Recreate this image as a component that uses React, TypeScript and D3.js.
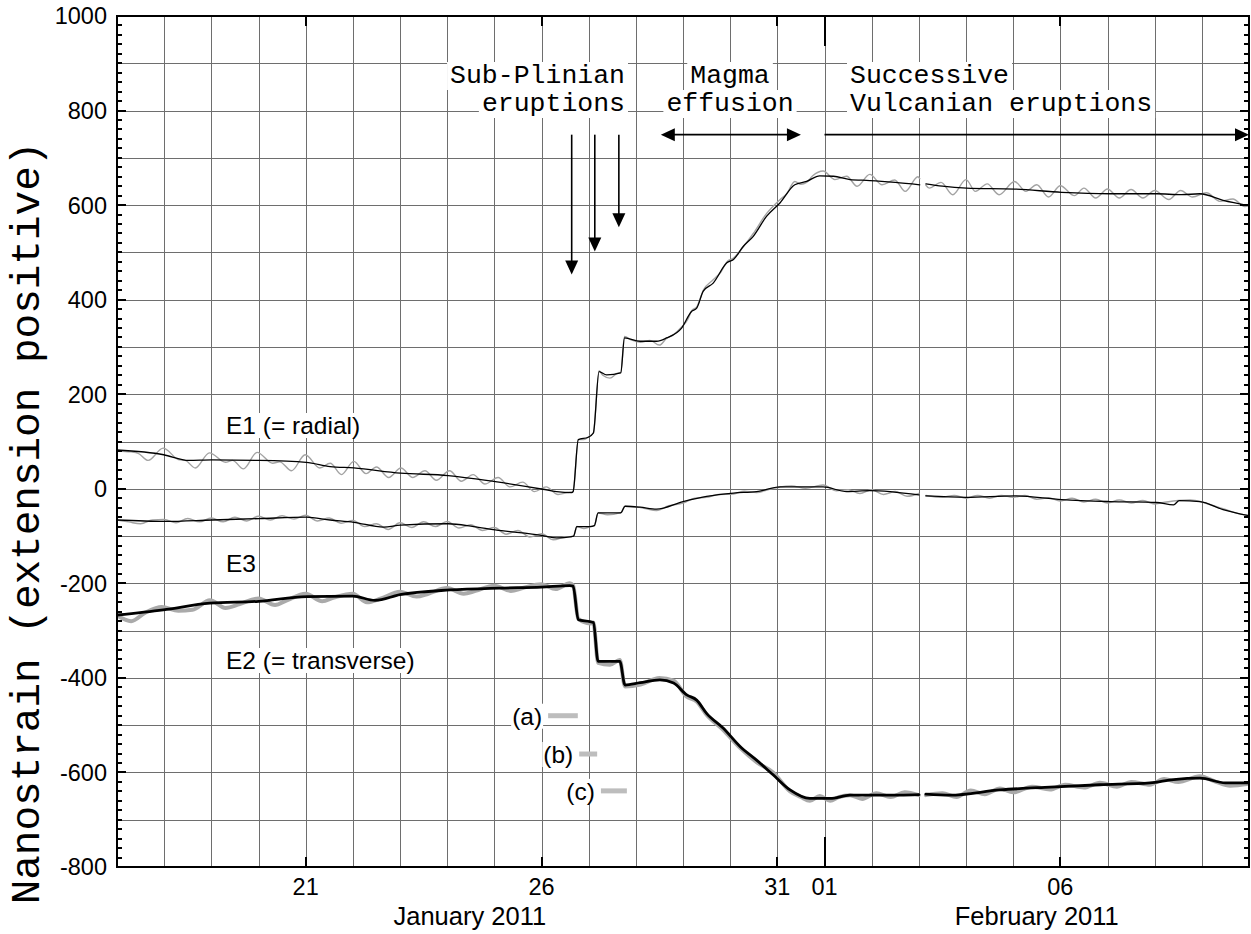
import { useEffect, useRef } from 'react';
import * as d3 from 'd3';

type Pt = [number, number | null];

// time is given in days after 17 Jan 2011 00:00 (UTC); null = data gap
const E1_BLACK: Pt[] = [
  [0, 82], [0.99, 72], [1.52, 60], [2.01, 61], [3.02, 60], [4.01, 56], [4.52, 47], [5.02, 44],
  [6.01, 33], [7.02, 28], [8.02, 15], [9.03, -1], [9.32, -6], [9.64, -8], [9.67, -6], [9.78, 104],
  [9.99, 109], [10.1, 118], [10.22, 248], [10.38, 241], [10.68, 245], [10.76, 319], [11.09, 312],
  [11.44, 312], [11.65, 319], [11.97, 340], [12.18, 375], [12.29, 382], [12.43, 418], [12.64, 435],
  [12.93, 478], [13.07, 485], [13.28, 513], [13.49, 534], [13.77, 576], [14.06, 605], [14.37, 643],
  [14.62, 650], [14.9, 662], [15.19, 661], [15.54, 654], [15.96, 652], [16.5, 648], [17.02, 643],
  [17.08, null], [17.15, 645], [17.5, 640], [18.01, 636], [19.03, 634], [20.03, 627], [21.05, 624],
  [22.04, 624], [22.57, 622], [22.96, 624], [23.45, 610], [24.0, 599],
];

const E1_GRAY: Pt[] = [
  [0, 80], [0.3, 78], [0.45, 75], [0.66, 60], [0.98, 86], [1.3, 62], [1.45, 60], [1.66, 44],
  [1.96, 76], [2.3, 56], [2.45, 60], [2.68, 42], [2.97, 77], [3.3, 54], [3.45, 57], [3.7, 38],
  [3.99, 72], [4.3, 44], [4.52, 54], [4.76, 30], [5.02, 58], [5.28, 32], [5.5, 46], [5.76, 24],
  [6.02, 44], [6.27, 24], [6.53, 38], [6.77, 18], [7.05, 38], [7.3, 16], [7.55, 30], [7.8, 10],
  [8.08, 24], [8.33, 4], [8.6, 14], [8.85, -6], [9.1, 4], [9.35, -12], [9.55, -8], [9.67, -6],
  [9.78, 104], [9.9, 104], [10.0, 110], [10.1, 118], [10.22, 250], [10.3, 240], [10.45, 234],
  [10.6, 244], [10.68, 246], [10.76, 322], [10.9, 315], [11.1, 310], [11.3, 314], [11.5, 304],
  [11.65, 318], [11.8, 326], [11.97, 342], [12.1, 358], [12.18, 376], [12.3, 386], [12.43, 420],
  [12.64, 442], [12.8, 458], [12.93, 480], [13.07, 488], [13.28, 512], [13.49, 540], [13.77, 582],
  [14.06, 612], [14.2, 624], [14.37, 650], [14.5, 644], [14.62, 648], [14.75, 662], [14.97, 672],
  [15.22, 654], [15.47, 661], [15.69, 640], [15.96, 665], [16.22, 643], [16.49, 653], [16.71, 629],
  [16.98, 660], [17.02, 656], [17.08, null], [17.15, 642], [17.22, 636], [17.47, 648], [17.72, 622],
  [18.0, 654], [18.2, 629], [18.45, 645], [18.7, 622], [19.03, 650], [19.27, 629], [19.5, 643],
  [19.75, 617], [20.0, 641], [20.3, 620], [20.5, 636], [20.75, 615], [21.0, 634], [21.25, 615],
  [21.5, 633], [21.75, 615], [22.0, 631], [22.3, 612], [22.55, 631], [22.8, 617], [23.1, 626],
  [23.38, 608], [23.66, 613], [23.91, 597], [24.0, 598],
];

const E3_BLACK: Pt[] = [
  [0, -66], [1.01, -69], [2.01, -66], [3.02, -63], [4.01, -60], [4.52, -66], [5.02, -71], [5.65, -81],
  [6.01, -77], [7.02, -74], [7.56, -80], [8.02, -87], [9.03, -99], [9.32, -104], [9.64, -101],
  [9.68, -100], [9.75, -80], [10.03, -80], [10.12, -78], [10.2, -51], [10.66, -51], [10.69, -50],
  [10.77, -37], [11.09, -39], [11.44, -43], [12.0, -27], [12.5, -16], [13.07, -9], [13.56, -6],
  [14.06, 4], [14.97, 4], [15.47, -6], [15.96, -4], [17.0, -13], [17.08, null], [17.15, -15],
  [18.0, -18], [19.03, -15], [20.03, -23], [21.05, -27], [22.04, -29], [22.4, -34], [22.52, -25],
  [22.96, -27], [23.45, -44], [24.0, -57],
];

const E3_GRAY: Pt[] = [
  [0, -66], [0.25, -70], [0.5, -74], [0.75, -66], [1, -65], [1.25, -72], [1.5, -63], [1.75, -70],
  [2, -62], [2.25, -70], [2.5, -60], [2.75, -68], [3, -58], [3.25, -66], [3.5, -57], [3.75, -64],
  [4, -56], [4.25, -68], [4.5, -62], [4.75, -73], [5, -67], [5.25, -80], [5.5, -74], [5.75, -86],
  [6, -72], [6.25, -82], [6.5, -70], [6.75, -80], [7, -69], [7.25, -83], [7.5, -76], [7.75, -88],
  [8, -82], [8.25, -96], [8.5, -88], [8.75, -102], [9, -95], [9.25, -108], [9.5, -102], [9.64, -101],
  [9.68, -100], [9.75, -80], [9.9, -84], [10.03, -80], [10.12, -78], [10.2, -51], [10.4, -55],
  [10.66, -51], [10.69, -50], [10.77, -37], [11.0, -38], [11.2, -42], [11.44, -46], [11.7, -36],
  [12.0, -30], [12.25, -20], [12.5, -18], [12.75, -12], [13.07, -11], [13.3, -5], [13.56, -8],
  [13.8, -2], [14.06, 4], [14.3, 6], [14.6, 1], [14.97, 8], [15.25, -4], [15.5, -2], [15.75, -10],
  [16, -2], [16.25, -12], [16.5, -6], [16.75, -16], [17.0, -10], [17.08, null], [17.15, -14],
  [17.5, -18], [17.75, -14], [18, -20], [18.25, -14], [18.5, -20], [18.75, -14], [19, -18],
  [19.25, -14], [19.5, -22], [19.75, -19], [20, -26], [20.25, -20], [20.5, -28], [20.75, -22],
  [21, -30], [21.25, -24], [21.5, -30], [21.75, -25], [22, -32], [22.25, -28], [22.5, -25],
  [22.75, -24], [23, -28], [23.25, -36], [23.5, -44], [23.75, -52], [24, -57],
];

const E2_BLACK: Pt[] = [
  [0, -267], [0.98, -256], [1.97, -242], [3.0, -238], [4.02, -228], [5.0, -227], [5.47, -236],
  [6.0, -224], [7.06, -214], [8.1, -210], [9.0, -208], [9.6, -205], [9.67, -206], [9.78, -277],
  [10.03, -281], [10.1, -283], [10.2, -365], [10.66, -365], [10.77, -415], [11.09, -410],
  [11.51, -404], [11.8, -411], [12.08, -436], [12.29, -447], [12.5, -475], [12.85, -506],
  [13.21, -545], [13.56, -574], [13.91, -605], [14.27, -637], [14.69, -655], [15.12, -655],
  [15.54, -648], [16.6, -648], [17.0, -647], [17.08, null], [17.15, -646], [17.66, -648],
  [18.72, -637], [19.78, -631], [20.84, -626], [21.9, -622], [22.4, -615], [22.96, -612],
  [23.5, -622], [24, -622],
];

const E2_GRAY: Pt[] = [
  [0, -268], [0.3, -280], [0.6, -262], [0.95, -250], [1.3, -258], [1.6, -256], [1.97, -236],
  [2.3, -252], [2.6, -244], [3.0, -232], [3.35, -246], [3.6, -236], [4.0, -222], [4.35, -238],
  [4.6, -230], [5.0, -222], [5.3, -240], [5.6, -232], [6.0, -218], [6.35, -228], [6.6, -222],
  [7.0, -210], [7.35, -222], [7.6, -216], [8.0, -205], [8.35, -216], [8.6, -210], [9.0, -202],
  [9.3, -212], [9.6, -200], [9.67, -204], [9.78, -275], [10.03, -285], [10.1, -283], [10.2, -368],
  [10.45, -372], [10.66, -362], [10.77, -418], [11.1, -414], [11.5, -400], [11.8, -406],
  [12.08, -440], [12.29, -450], [12.5, -478], [12.85, -510], [13.21, -548], [13.56, -578],
  [13.91, -600], [14.27, -640], [14.5, -652], [14.69, -660], [14.9, -650], [15.12, -660],
  [15.3, -652], [15.54, -648], [15.8, -656], [16.1, -644], [16.4, -652], [16.7, -642], [17.0, -648],
  [17.08, null], [17.15, -648], [17.5, -644], [17.8, -652], [18.1, -638], [18.4, -646],
  [18.72, -634], [19.0, -642], [19.4, -630], [19.78, -636], [20.1, -626], [20.5, -632],
  [20.84, -622], [21.2, -630], [21.5, -620], [21.9, -626], [22.2, -614], [22.5, -620],
  [22.96, -608], [23.3, -620], [23.6, -628], [24, -624],
];

// sub-Plinian eruption arrows: time, arrow tip (nanostrain)
const ERUPTION_DAYS = [9.64, 10.13, 10.64];
const ERUPTION_TIPS = [453, 502, 553];
const ARROW_TOP = 749;
const EFFUSION_SPAN = [11.53, 14.5];
const VULCANIAN_SPAN = [15, 24];

// time windows (a), (b), (c)
const WINDOW_LABELS = ['(a)', '(b)', '(c)'];
const WINDOW_START = [9.14, 9.8, 10.26];
const WINDOW_END = [9.77, 10.18, 10.81];
const WINDOW_LEVEL = [-480, -561, -639];

const Y_TICKS = [-800, -600, -400, -200, 0, 200, 400, 600, 800, 1000];
const X_TICK_DAYS = [4, 9, 14, 15, 20];
const X_TICK_LABELS = ['21', '26', '31', '01', '06'];

const W = 1251;
const H = 934;
const START = Date.UTC(2011, 0, 17);
const END = Date.UTC(2011, 1, 10);
const DAY = 864e5;
const toDate = (d: number) => new Date(START + d * DAY);

const SANS = '"Liberation Sans", Arial, Helvetica, sans-serif';
const MONO = '"Liberation Mono", "Courier New", monospace';

export default function App() {
  const svgRef = useRef<SVGSVGElement>(null);

  useEffect(() => {
    if (!svgRef.current) return;
    const svg = d3.select(svgRef.current);
    svg.selectAll('*').remove();

    const left = 117, right = 1249, top = 16, bottom = 867;
    const x = d3.scaleUtc().domain([new Date(START), new Date(END)]).range([left, right]);
    const y = d3.scaleLinear().domain([-800, 1000]).range([bottom, top]);

    svg.append('rect').attr('width', W).attr('height', H).attr('fill', '#fff');

    svg.append('defs').append('clipPath').attr('id', 'plotclip')
      .append('rect').attr('x', left).attr('y', top).attr('width', right - left).attr('height', bottom - top);

    // grid
    const grid = svg.append('g').attr('stroke', '#6e6e6e').attr('stroke-width', 1).attr('shape-rendering', 'crispEdges');
    grid.selectAll('line.v')
      .data(d3.utcDay.range(new Date(START + DAY), new Date(END)))
      .join('line')
      .attr('x1', d => Math.round(x(d)) + 0.5).attr('x2', d => Math.round(x(d)) + 0.5)
      .attr('y1', top).attr('y2', bottom);
    grid.selectAll('line.h')
      .data(d3.range(-700, 1000, 100))
      .join('line')
      .attr('x1', left).attr('x2', right)
      .attr('y1', d => Math.round(y(d)) + 0.5).attr('y2', d => Math.round(y(d)) + 0.5);

    // text with white box behind
    const labels = svg.append('g');
    const addLabel = (txt: string, tx: number, ty: number, anchor: string, font: string, size: number, pad = 3) => {
      const g = labels.append('g');
      const t = g.append('text')
        .attr('x', tx).attr('y', ty)
        .attr('text-anchor', anchor)
        .attr('font-family', font)
        .attr('font-size', size)
        .attr('fill', '#000')
        .text(txt);
      const b = (t.node() as SVGTextElement).getBBox();
      g.insert('rect', 'text')
        .attr('x', b.x - pad).attr('y', b.y + 1)
        .attr('width', b.width + pad * 2).attr('height', b.height - 2)
        .attr('fill', '#fff');
    };

    // curves
    const line = d3.line<Pt>()
      .defined(d => d[1] !== null)
      .x(d => x(toDate(d[0])))
      .y(d => y(d[1] as number))
      .curve(d3.curveMonotoneX);

    const curves = svg.append('g').attr('clip-path', 'url(#plotclip)').attr('fill', 'none')
      .attr('stroke-linejoin', 'round').attr('stroke-linecap', 'round');
    const series: [Pt[], string, number][] = [
      [E1_GRAY, '#a3a3a3', 1.4],
      [E1_BLACK, '#000', 1.3],
      [E3_GRAY, '#a3a3a3', 1.5],
      [E3_BLACK, '#000', 1.3],
      [E2_GRAY, '#aaaaaa', 4],
      [E2_BLACK, '#000', 2.8],
    ];
    series.forEach(([data, color, w]) => {
      curves.append('path').attr('d', line(data)).attr('stroke', color).attr('stroke-width', w);
    });

    // annotation text
    addLabel('Sub-Plinian', 625, 83, 'end', MONO, 26.5);
    addLabel('eruptions', 625, 111, 'end', MONO, 26.5);
    addLabel('Magma', 730, 83, 'middle', MONO, 26.5);
    addLabel('effusion', 730, 111, 'middle', MONO, 26.5);
    addLabel('Successive', 850, 83, 'start', MONO, 26.5);
    addLabel('Vulcanian eruptions', 850, 111, 'start', MONO, 26.5);

    addLabel('E1 (= radial)', 226, 434, 'start', SANS, 24.5, 2);
    addLabel('E3', 226, 572, 'start', SANS, 24.5, 2);
    addLabel('E2 (= transverse)', 226, 669, 'start', SANS, 24.5, 2);

    // windows (a)(b)(c)
    WINDOW_LABELS.forEach((lab, i) => {
      const x0 = x(toDate(WINDOW_START[i]));
      const x1 = x(toDate(WINDOW_END[i]));
      const yy = y(WINDOW_LEVEL[i]);
      addLabel(lab, x0 - 6, yy + 9, 'end', SANS, 24.5, 1);
      svg.append('line')
        .attr('x1', x0).attr('x2', x1).attr('y1', yy).attr('y2', yy)
        .attr('stroke', '#bdbdbd').attr('stroke-width', 5);
    });

    // arrows
    const arrows = svg.append('g').attr('stroke', '#000').attr('fill', '#000');
    const head = (tx: number, ty: number, dir: 'down' | 'left' | 'right') => {
      const L = 14, hw = 6.5;
      let p: [number, number][];
      if (dir === 'down') p = [[tx, ty], [tx - hw, ty - L], [tx + hw, ty - L]];
      else if (dir === 'left') p = [[tx, ty], [tx + L, ty - hw], [tx + L, ty + hw]];
      else p = [[tx, ty], [tx - L, ty - hw], [tx - L, ty + hw]];
      arrows.append('path').attr('d', 'M' + p.map(q => q.join(',')).join('L') + 'Z').attr('stroke', 'none');
    };
    ERUPTION_DAYS.forEach((d, i) => {
      const ax = x(toDate(d));
      arrows.append('line').attr('x1', ax).attr('x2', ax)
        .attr('y1', y(ARROW_TOP)).attr('y2', y(ERUPTION_TIPS[i]) - 8).attr('stroke-width', 1.6);
      head(ax, y(ERUPTION_TIPS[i]), 'down');
    });
    const ay = y(ARROW_TOP);
    const e0 = x(toDate(EFFUSION_SPAN[0])), e1 = x(toDate(EFFUSION_SPAN[1]));
    arrows.append('line').attr('x1', e0 + 8).attr('x2', e1 - 8).attr('y1', ay).attr('y2', ay).attr('stroke-width', 1.6);
    head(e0, ay, 'left');
    head(e1, ay, 'right');
    const v0 = x(toDate(VULCANIAN_SPAN[0])), v1 = x(toDate(VULCANIAN_SPAN[1]));
    arrows.append('line').attr('x1', v0).attr('x2', v1 - 8).attr('y1', ay).attr('y2', ay).attr('stroke-width', 1.6);
    head(v1, ay, 'right');

    // frame and ticks
    const axes = svg.append('g').attr('stroke', '#000').attr('shape-rendering', 'crispEdges');
    axes.append('rect').attr('x', left).attr('y', top).attr('width', right - left).attr('height', bottom - top)
      .attr('fill', 'none').attr('stroke-width', 2);
    d3.range(-800, 1001, 20).forEach(v => {
      const major = v % 200 === 0;
      const len = major ? 9 : 5;
      const yy = Math.round(y(v));
      axes.append('line').attr('x1', left).attr('x2', left + len).attr('y1', yy).attr('y2', yy).attr('stroke-width', 1.5);
      axes.append('line').attr('x1', right).attr('x2', right - len).attr('y1', yy).attr('y2', yy).attr('stroke-width', 1.5);
    });
    X_TICK_DAYS.forEach((d, i) => {
      const xx = Math.round(x(toDate(d)));
      const len = X_TICK_LABELS[i] === '01' ? 30 : 10;
      axes.append('line').attr('x1', xx).attr('x2', xx).attr('y1', bottom).attr('y2', bottom - len).attr('stroke-width', 1.5);
      axes.append('line').attr('x1', xx).attr('x2', xx).attr('y1', top).attr('y2', top + len).attr('stroke-width', 1.5);
    });

    const tl = svg.append('g').attr('font-family', SANS).attr('font-size', 23.5).attr('fill', '#000');
    Y_TICKS.forEach(v => {
      tl.append('text').attr('x', left - 10).attr('y', y(v)).attr('dy', '0.36em')
        .attr('text-anchor', 'end').text(String(v));
    });
    X_TICK_DAYS.forEach((d, i) => {
      tl.append('text').attr('x', x(toDate(d))).attr('y', 895)
        .attr('text-anchor', 'middle').text(X_TICK_LABELS[i]);
    });
    tl.append('text').attr('x', x(toDate(7.48))).attr('y', 925).attr('font-size', 25.5)
      .attr('text-anchor', 'middle').text('January 2011');
    tl.append('text').attr('x', x(toDate(19.5))).attr('y', 925).attr('font-size', 25.5)
      .attr('text-anchor', 'middle').text('February 2011');

    svg.append('text')
      .attr('transform', `translate(39, 523) rotate(-90)`)
      .attr('text-anchor', 'middle')
      .attr('font-family', MONO)
      .attr('font-size', 41)
      .attr('fill', '#000')
      .text('Nanostrain (extension positive)');
  }, []);

  return (
    <svg ref={svgRef} width={W} height={H}
      style={{ position: 'absolute', left: 0, top: 0, display: 'block', background: '#fff' }} />
  );
}
